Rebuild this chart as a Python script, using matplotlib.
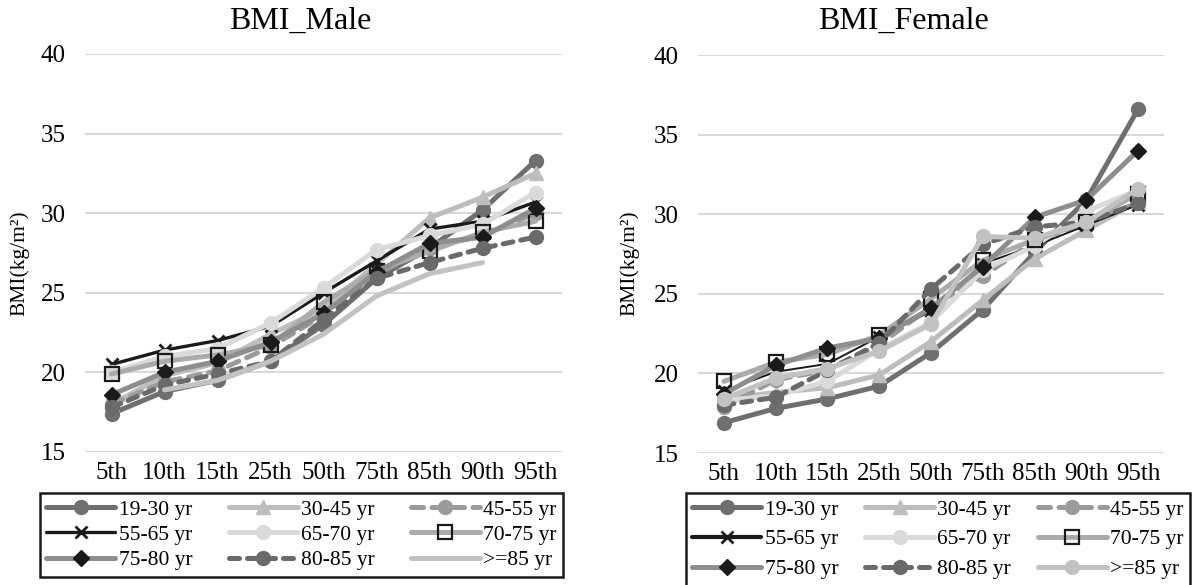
import numpy as np
import matplotlib
matplotlib.use("Agg")
import matplotlib.pyplot as plt

plt.rcParams['font.family'] = ['Liberation Serif', 'DejaVu Serif']

# --- data ---
percentiles = ['5th', '10th', '15th', '25th', '50th', '75th', '85th', '90th', '95th']
groups = ['19-30 yr', '30-45 yr', '45-55 yr', '55-65 yr', '65-70 yr',
          '70-75 yr', '75-80 yr', '80-85 yr', '>=85 yr']

male_19_30 = [17.4, 18.8, 19.5, 20.7, 23.0, 25.9, 27.8, 30.2, 33.3]
male_30_45 = [18.0, 19.8, 20.6, 22.4, 24.0, 26.8, 29.7, 31.0, 32.5]
male_45_55 = [18.0, 19.4, 20.1, 21.6, 23.6, 26.2, 27.8, 28.6, 30.0]
male_55_65 = [20.5, 21.4, 22.0, 22.9, 25.0, 27.0, 29.0, 29.5, 30.7]
male_65_70 = [20.0, 21.0, 21.5, 23.1, 25.3, 27.7, 28.6, 29.3, 31.3]
male_70_75 = [19.9, 20.7, 21.1, 21.7, 24.4, 26.4, 27.6, 28.8, 29.5]
male_75_80 = [18.6, 20.0, 20.7, 21.9, 23.7, 26.3, 28.1, 28.5, 30.3]
male_80_85 = [17.8, 19.2, 19.9, 20.7, 23.3, 25.9, 26.9, 27.8, 28.5]
male_85_up = [np.nan, 18.9, 19.5, 20.7, 22.4, 24.8, 26.2, 26.9, np.nan]

female_19_30 = [16.9, 17.8, 18.4, 19.2, 21.3, 24.0, 27.6, 30.9, 36.6]
female_30_45 = [18.4, 18.8, 19.1, 19.9, 22.0, 24.6, 27.2, 29.0, 30.8]
female_45_55 = [17.9, 19.6, 20.2, 21.8, 24.2, 26.1, 28.3, 29.5, 30.7]
female_55_65 = [18.9, 20.1, 20.6, 22.3, 23.9, 26.9, 28.0, 29.3, 30.6]
female_65_70 = [18.3, 18.6, 19.5, 21.5, 23.2, 26.5, 28.0, 30.2, 31.5]
female_70_75 = [19.5, 20.7, 21.2, 22.4, 24.7, 27.1, 28.4, 29.5, 31.3]
female_75_80 = [18.7, 20.5, 21.6, 22.2, 24.1, 26.7, 29.8, 30.9, 34.0]
female_80_85 = [18.0, 18.5, 20.2, 21.9, 25.3, 28.1, 29.2, 29.5, 30.7]
female_85_up = [18.4, 19.7, 20.3, 21.4, 23.1, 28.6, 28.5, 29.5, 31.6]

male = [male_19_30, male_30_45, male_45_55, male_55_65, male_65_70,
        male_70_75, male_75_80, male_80_85, male_85_up]
female = [female_19_30, female_30_45, female_45_55, female_55_65, female_65_70,
          female_70_75, female_75_80, female_80_85, female_85_up]

# --- styles (color, marker, dashed) ---
styles = [
    dict(color='#6f6f6f', marker='o', mfc='#6f6f6f', mec='#6f6f6f', ms=10),
    dict(color='#bdbdbd', marker='^', mfc='#bdbdbd', mec='#bdbdbd', ms=10),
    dict(color='#9b9b9b', marker='o', mfc='#9b9b9b', mec='#9b9b9b', ms=10, dashes=(2.4, 1.7)),
    dict(color='#1a1a1a', marker='x', mfc='#1a1a1a', mec='#1a1a1a', ms=8, mew=2),
    dict(color='#dadada', marker='o', mfc='#dadada', mec='#dadada', ms=10),
    dict(color='#ababab', marker='s', mfc='none', mec='#1a1a1a', ms=10, mew=1.6),
    dict(color='#8e8e8e', marker='D', mfc='#1a1a1a', mec='#1a1a1a', ms=8),
    dict(color='#6a6a6a', marker='o', mfc='#6a6a6a', mec='#6a6a6a', ms=10, dashes=(2.0, 1.6)),
    dict(color='#c2c2c2', marker=None),
]

W, H = 1192, 585
fig = plt.figure(figsize=(W / 100, H / 100), dpi=100)


def px_axes(x0, y0, x1, y1):
    return fig.add_axes([x0 / W, 1 - y1 / H, (x1 - x0) / W, (y1 - y0) / H])


def draw(ax, data, female_side):
    x = np.arange(len(percentiles))
    lines = []
    for i, (vals, st) in enumerate(zip(data, styles)):
        st = dict(st)
        dashes = st.pop('dashes', None)
        marker = st.pop('marker')
        if female_side and i == 8:
            marker = 'o'
            st.update(mfc='#c2c2c2', mec='#c2c2c2', ms=10)
        lw = 3.6
        if i == 3:
            lw = 2.4 if not female_side else 1.4
        ln, = ax.plot(x, vals, marker=marker, lw=lw, label=groups[i],
                      solid_capstyle='round', dash_capstyle='round',
                      color=st.pop('color'),
                      markerfacecolor=st.pop('mfc', None),
                      markeredgecolor=st.pop('mec', None),
                      markersize=st.pop('ms', 10),
                      markeredgewidth=st.pop('mew', 1.0))
        if dashes:
            ln.set_dashes(dashes)
        lines.append(ln)
    ax.set_xlim(-0.5, 8.5)
    ax.set_ylim(15, 40)
    ax.set_yticks([15, 20, 25, 30, 35, 40])
    ax.set_xticks(x)
    ax.set_xticklabels(percentiles)
    ax.grid(axis='y', color='#d9d9d9', lw=1.5)
    ax.set_axisbelow(True)
    for s in ax.spines.values():
        s.set_visible(False)
    ax.tick_params(length=0, labelsize=18, pad=7)
    ax.tick_params(axis='y', pad=14)
    return lines


ax1 = px_axes(85, 54, 562, 452)
lines1 = draw(ax1, male, False)
ax2 = px_axes(698, 55, 1164, 453)
lines2 = draw(ax2, female, True)

fig.text(300 / W, 1 - 21 / H, 'BMI_Male', ha='center', va='center', fontsize=23)
fig.text(903 / W, 1 - 21 / H, 'BMI_Female', ha='center', va='center', fontsize=23)
fig.text(20 / W, 1 - 263 / H, 'BMI(kg/m²)', rotation=90, ha='center', va='center', fontsize=15.5)
fig.text(630 / W, 1 - 263 / H, 'BMI(kg/m²)', rotation=90, ha='center', va='center', fontsize=15.5)

# legend filled row by row like the original
order = [0, 3, 6, 1, 4, 7, 2, 5, 8]
leg_kw = dict(ncol=3, mode='expand', fontsize=15.5, handlelength=3.2,
              frameon=True, fancybox=False, borderaxespad=0, columnspacing=0.3,
              handletextpad=0.15, borderpad=0.3, loc='upper left')
l1 = ax1.legend([lines1[k] for k in order], [groups[k] for k in order],
                bbox_to_anchor=(40 / W, 1 - 493 / H, 523 / W, 0.0),
                bbox_transform=fig.transFigure, labelspacing=0.25, **leg_kw)
l2 = ax2.legend([lines2[k] for k in order], [groups[k] for k in order],
                bbox_to_anchor=(686 / W, 1 - 493 / H, 504 / W, 0.0),
                bbox_transform=fig.transFigure, labelspacing=0.45, **leg_kw)
for lg in (l1, l2):
    fr = lg.get_frame()
    fr.set_edgecolor('#1a1a1a')
    fr.set_linewidth(1.8)
    fr.set_alpha(1)
# the 55-65 key is drawn thick in both legends
l2.legend_handles[1].set_linewidth(3.0)

fig.savefig('out.png', dpi=100)
